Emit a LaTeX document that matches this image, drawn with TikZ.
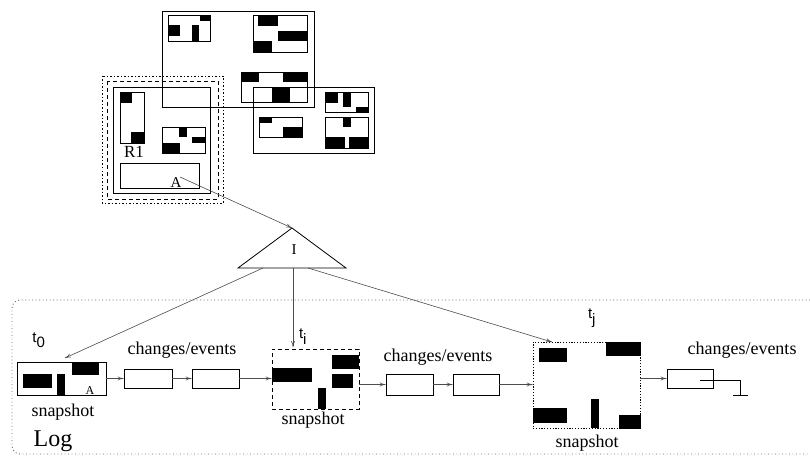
\documentclass[tikz,border=0pt]{standalone}
\usepackage{fontspec}
\setmainfont{Liberation Serif}
\newfontfamily\tfont{Liberation Sans}
\usetikzlibrary{arrows.meta}

\tikzset{
  blk/.style={fill=black},
  lnk/.style={-{To[length=6pt,width=4pt]}, black!70, line width=0.6pt},
  evbox/.style={draw, line width=0.8pt, inner sep=0pt},
  lbl/.style={font=\fontsize{18}{20}\selectfont, inner sep=0pt},
  tlbl/.style={font=\tfont\fontsize{15}{17}\selectfont, inner sep=0pt},
}

\begin{document}
\begin{tikzpicture}[x=1pt, y=-1pt, line width=0.8pt]
        \useasboundingbox (0,0) rectangle (810,457);

        % Database: top region
        \draw (162,11) rectangle (314,107);
        \draw (168,15) rectangle (210,41);
        \fill[blk] (200,15) rectangle (210,21);
        \fill[blk] (168,25) rectangle (180,36);
        \fill[blk] (192,25) rectangle (199,41);
        \draw (253,15) rectangle (307,52);
        \fill[blk] (258,15) rectangle (278,26);
        \fill[blk] (278,31) rectangle (307,41);
        \fill[blk] (253,41) rectangle (272,52);
        \draw (241,72) rectangle (307,102);
        \fill[blk] (241,72) rectangle (259,82);
        \fill[blk] (283,72) rectangle (307,82);
        \fill[blk] (272,87) rectangle (290,102);

        % Database: right region
        \draw (253,87) rectangle (374,153);
        \draw (259,117) rectangle (302,137);
        \fill[blk] (259,117) rectangle (272,123);
        \fill[blk] (283,127) rectangle (302,137);
        \draw (325,92) rectangle (368,112);
        \fill[blk] (325,92) rectangle (338,103);
        \fill[blk] (343,92) rectangle (351,107);
        \fill[blk] (356,107) rectangle (368,112);
        \draw (325,117) rectangle (368,148);
        \fill[blk] (343,117) rectangle (351,127);
        \fill[blk] (325,137) rectangle (345,148);
        \fill[blk] (349,137) rectangle (368,148);

        % Database: region R1
        \draw[dash pattern=on 1.5pt off 2pt] (102,76) rectangle (223,203);
        \draw[dash pattern=on 4pt off 3pt] (107,81) rectangle (218,199);
        \draw (113,87) rectangle (210,193);
        \draw (120,92) rectangle (144,143);
        \fill[blk] (120,92) rectangle (132,103);
        \fill[blk] (131,132) rectangle (144,143);
        \draw (162,127) rectangle (205,153);
        \fill[blk] (179,127) rectangle (187,137);
        \fill[blk] (192,137) rectangle (205,143);
        \fill[blk] (162,143) rectangle (180,153);
        \node[font=\fontsize{17}{19}\selectfont, inner sep=0pt] (r1) at (134,152) {R1};
        \draw (120,163) rectangle (199,188);
        \node[font=\fontsize{15}{17}\selectfont, inner sep=0pt] (objA) at (176,183) {A};
        \coordinate (objAref) at (180,177);

        % Index
        \coordinate (itop) at (292,228);
        \coordinate (ileft) at (238,268);
        \coordinate (iright) at (346,268);
        \draw (itop) -- (ileft) -- (iright) -- cycle;
        \node[font=\fontsize{15}{17}\selectfont, inner sep=0pt] (idx) at (294,250) {I};
        \draw[lnk] (objAref) -- (itop);

        % Log
        \draw[black!60, dash pattern=on 0.9pt off 2.6pt, line width=0.9pt, rounded corners=8pt]
            (810,300) -- (12,300) -- (12,454) -- (810,454);
        \node[font=\fontsize{24}{26}\selectfont, inner sep=0pt] (log) at (53,441) {Log};

        % Snapshot t_0
        \node[evbox, minimum width=89pt, minimum height=33pt] (s0) at (61.5,378.5) {};
        \fill[blk] (72,362) rectangle (99,375);
        \fill[blk] (23,374) rectangle (52,388);
        \fill[blk] (57,374) rectangle (65,395);
        \node[font=\fontsize{12}{14}\selectfont, inner sep=0pt] (s0A) at (90,391) {A};
        \node[lbl] (s0lbl) at (63,412) {snapshot};
        \node[tlbl] (t0) at (39,340) {t$_{\textrm{\tfont 0}}$};

        % Snapshot t_i
        \node[evbox, dash pattern=on 4pt off 3pt, minimum width=87pt, minimum height=60pt] (si) at (315.5,379) {};
        \fill[blk] (332,355) rectangle (359,369);
        \fill[blk] (332,374) rectangle (353,388);
        \fill[blk] (272,368) rectangle (312,382);
        \fill[blk] (318,388) rectangle (326,409);
        \node[lbl] (silbl) at (313,420) {snapshot};
        \node[tlbl] (ti) at (303,337) {t$_{\textrm{\tfont i}}$};

        % Snapshot t_j
        \node[evbox, dash pattern=on 1.2pt off 1.6pt, minimum width=107pt, minimum height=86pt] (sj) at (586.5,385) {};
        \fill[blk] (539,348) rectangle (567,362);
        \fill[blk] (606,342) rectangle (641,356);
        \fill[blk] (533,408) rectangle (567,423);
        \fill[blk] (591,399) rectangle (599,428);
        \fill[blk] (619,415) rectangle (641,429);
        \node[lbl] (sjlbl) at (587,443) {snapshot};
        \node[tlbl] (tj) at (592,318) {t$_{\textrm{\tfont j}}$};

        % Changes/events
        \node[evbox, minimum width=48pt, minimum height=19pt] (c1) at (148,378.5) {};
        \node[evbox, minimum width=47pt, minimum height=19pt] (c2) at (215.5,378.5) {};
        \node[evbox, minimum width=47pt, minimum height=21pt] (c3) at (409.5,384.5) {};
        \node[evbox, minimum width=46pt, minimum height=21pt] (c4) at (476,384.5) {};
        \node[evbox, minimum width=46pt, minimum height=19pt] (c5) at (690,378.5) {};
        \node[lbl] (ev1) at (182,350) {changes/events};
        \node[lbl] (ev2) at (438,357) {changes/events};
        \node[lbl] (ev3) at (742,350) {changes/events};

        \draw[lnk] (s0.east) -- (c1.west);
        \draw[lnk] (c1) -- (c2);
        \draw[lnk] (c2.east) -- (si.west |- c2.east);
        \draw[lnk] (si.east |- c3.west) -- (c3.west);
        \draw[lnk] (c3) -- (c4);
        \draw[lnk] (c4.east) -- (sj.west |- c4.east);
        \draw[lnk] (sj.east |- c5.west) -- (c5.west);

        % null pointer
        \coordinate (nil) at (740,395);
        \draw (c5.center) ++(10,2) -| (nil);
        \draw (733,395) -- (748,395);

        % Index to snapshots
        \draw[lnk] (263,268) -- (65,358);
        \draw[lnk] (293,268) -- (293,347);
        \draw[lnk] (308,268) -- (552,342);
\end{tikzpicture}
\end{document}
